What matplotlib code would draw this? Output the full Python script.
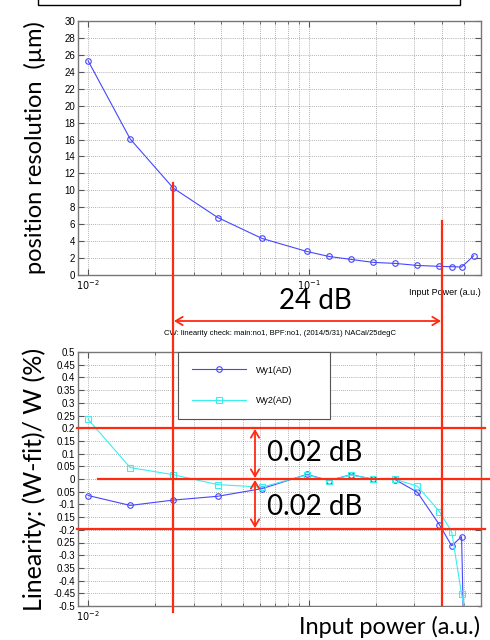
import numpy as np
import matplotlib.pyplot as plt
from matplotlib.lines import Line2D
from matplotlib.patches import Rectangle, FancyArrowPatch
from matplotlib.ticker import LogLocator, NullFormatter, FixedLocator, FixedFormatter

# input power (a.u.)
power = [0.01, 0.0155, 0.0243, 0.0386, 0.0612, 0.0977, 0.123, 0.155, 0.195,
         0.245, 0.309, 0.389, 0.442, 0.490, 0.556]
# position resolution in um
resolution = [25.3, 16.07, 10.26, 6.79, 4.32, 2.78, 2.19, 1.84, 1.49,
              1.37, 1.13, 1.02, 0.98, 0.94, 2.27]
# linearity (W-fit)/W in %
wy1 = [-0.065, -0.104, -0.083, -0.068, -0.038, 0.018, -0.006, 0.017, -0.001,
       -0.002, -0.052, -0.18, -0.263, -0.227, -2.4]
wy2 = [0.235, 0.045, 0.017, -0.022, -0.032, 0.016, -0.006, 0.016, 0.0,
       -0.001, -0.028, -0.128, -0.208, -0.454, -0.66]

res_ticks = list(range(0, 31, 2))
lin_ticks = [round(v, 2) for v in np.arange(-0.5, 0.501, 0.05)]
lin_labels = ['-0.5', '-0.45', '-0.4', '0.35', '-0.3', '0.25', '-0.2', '0.15', '-0.1', '0.05',
              '0', '0.05', '0.1', '0.15', '0.2', '0.25', '0.3', '0.35', '0.4', '0.45', '0.5']

W, H = 490, 640
RED = '#ff2a10'
BLUE = '#4646ff'
CYAN = '#38f0f0'
big_font = ['Lato', 'DejaVu Sans']
plt.rcParams['font.family'] = ['Liberation Sans', 'DejaVu Sans']

fig = plt.figure(figsize=(4.9, 6.4), dpi=100)

def fx(px):
    return px / W

def fy(py):
    return 1 - py / H

ax1 = fig.add_axes([fx(78), fy(275), fx(481) - fx(78), fy(21) - fy(275)])
ax2 = fig.add_axes([fx(78), fy(606), fx(481) - fx(78), fy(352) - fy(606)])

for ax, xlabels in ((ax1, [r'$10^{-2}$', r'$10^{-1}$']), (ax2, [r'$10^{-2}$', ''])):
    ax.set_xscale('log')
    ax.set_xlim(0.009, 0.6)
    ax.xaxis.set_major_locator(FixedLocator([0.01, 0.1]))
    ax.xaxis.set_major_formatter(FixedFormatter(xlabels))
    ax.xaxis.set_minor_locator(LogLocator(base=10, subs=np.arange(2, 10)))
    ax.xaxis.set_minor_formatter(NullFormatter())
    ax.grid(True, which='both', axis='x', color='#999999', linestyle=(0, (1, 1.5)), linewidth=0.6)
    ax.grid(True, which='major', axis='y', color='#999999', linestyle=(0, (1, 1.5)), linewidth=0.6)
    ax.tick_params(which='both', direction='in', top=True, right=True, labelsize=7,
                   color='#555555', pad=2)
    ax.tick_params(which='major', length=4)
    ax.tick_params(which='minor', length=2.5)
    for s in ax.spines.values():
        s.set_color('#777777')
        s.set_linewidth(1.0)

# top: position resolution
ax1.plot(power, resolution, color=BLUE, lw=0.8, marker='o', ms=4, mfc='none', mec=BLUE, mew=0.8)
ax1.set_ylim(0, 30)
ax1.set_yticks(res_ticks)
ax1.set_ylabel('position resolution  (µm)', fontsize=17, family=big_font)
ax1.yaxis.set_label_coords(-0.08, 0.5)
ax1.text(1.0, -0.07, 'Input Power (a.u.)', transform=ax1.transAxes, ha='right', va='center', fontsize=6.5)

# bottom: linearity
ax2.plot(power, wy1, color=BLUE, lw=0.8, marker='o', ms=4, mfc='none', mec=BLUE, mew=0.8, label='Wy1(AD)')
ax2.plot(power, wy2, color=CYAN, lw=0.8, marker='s', ms=4, mfc='none', mec=CYAN, mew=0.8, label='Wy2(AD)')
ax2.set_ylim(-0.5, 0.5)
ax2.yaxis.set_major_locator(FixedLocator(lin_ticks))
ax2.yaxis.set_major_formatter(FixedFormatter(lin_labels))
ax2.set_ylabel('Linearity: (W-fit)/ W (%)', fontsize=18, family=big_font)
ax2.yaxis.set_label_coords(-0.08, 0.5)
ax2.set_title('CW: linearity check: main:no1, BPF:no1, (2014/5/31) NACal/25degC', fontsize=5.5, pad=12)
leg = ax2.legend(loc='upper left', bbox_to_anchor=((178 - 78) / 403, 1.0, 152 / 403, 0.0), mode='expand',
                 fontsize=6.5, handlelength=6.0, handletextpad=1.1, labelspacing=2.4, borderpad=1.5,
                 borderaxespad=0, fancybox=False, framealpha=1, edgecolor='#555555')
leg.get_frame().set_linewidth(0.8)

# cut-off box at the very top
fig.add_artist(Rectangle((fx(38), fy(5)), fx(460) - fx(38), 0.05, transform=fig.transFigure,
                         fill=False, edgecolor='black', lw=1.0))

# red annotation overlay
def red_line(x0, y0, x1, y1, lw=1.6):
    fig.add_artist(Line2D([fx(x0), fx(x1)], [fy(y0), fy(y1)], transform=fig.transFigure,
                          color=RED, lw=lw, zorder=10))

def red_arrow(x0, y0, x1, y1):
    fig.add_artist(FancyArrowPatch((fx(x0), fy(y0)), (fx(x1), fy(y1)), transform=fig.transFigure,
                                   arrowstyle='<->,head_length=5,head_width=3', color=RED, lw=1.3,
                                   shrinkA=0, shrinkB=0, zorder=10))

red_line(173, 183, 173, 612)
red_line(442, 221, 442, 605)
red_line(77, 428, 485, 428)
red_line(98, 479, 490, 479)
red_line(77, 529, 485, 529)
red_arrow(174, 321, 441, 321)
red_arrow(255, 429, 255, 478)
red_arrow(255, 480, 255, 528)

fig.text(fx(315), fy(301), '24 dB', fontsize=20, family=big_font, ha='center', va='center', zorder=11)
fig.text(fx(267), fy(453), '0.02 dB', fontsize=20, family=big_font, ha='left', va='center', zorder=11)
fig.text(fx(267), fy(507), '0.02 dB', fontsize=20, family=big_font, ha='left', va='center', zorder=11)

fig.add_artist(Rectangle((fx(287), 0), fx(478) - fx(287), fy(607), transform=fig.transFigure,
                         facecolor='white', edgecolor='none', zorder=9))
fig.text(fx(480), fy(627), 'Input power (a.u.)', fontsize=17, family=big_font, ha='right', va='center', zorder=11)

fig.savefig('out.png', dpi=100)
